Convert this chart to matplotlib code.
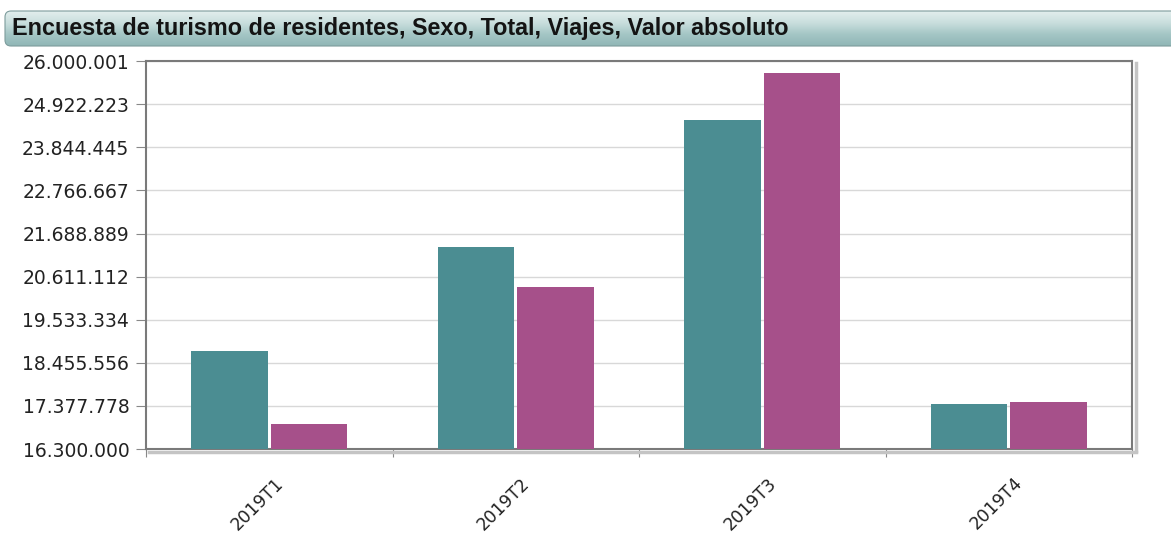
import matplotlib.pyplot as plt
import numpy as np
from matplotlib.colors import LinearSegmentedColormap
from matplotlib.patches import FancyBboxPatch
from matplotlib.ticker import FixedLocator, FuncFormatter

# Viajes por trimestre (valor absoluto)
trimestres = ['2019T1', '2019T2', '2019T3', '2019T4']
serie_a = [18756000, 21360000, 24520000, 17430000]
serie_b = [16920000, 20360000, 25690000, 17470000]

y_min = 16300000
y_max = 26000001
y_ticks = np.linspace(y_min, y_max, 10)

color_a = '#4b8d92'
color_b = '#a6508a'

fig = plt.figure(figsize=(11.71, 5.34), dpi=100)
fig.patch.set_facecolor('white')

# Barra de título con degradado
bar_ax = fig.add_axes([0, (534 - 48) / 534, 1, 40 / 534])
bar_ax.set_xlim(0, 1171)
bar_ax.set_ylim(0, 40)
bar_ax.axis('off')
caja = FancyBboxPatch((5, 2), 1200, 35, boxstyle='round,pad=0,rounding_size=6',
                      facecolor='none', edgecolor='#7d9c9c', lw=0.8, zorder=3)
bar_ax.add_patch(caja)
grad = np.linspace(0, 1, 64).reshape(-1, 1)
img = bar_ax.imshow(grad, extent=(5, 1205, 2, 37), aspect='auto',
                    cmap=LinearSegmentedColormap.from_list(
                        'tb', ['#90b6b6', '#a4c6c5', '#c9dedd', '#e2eeed']),
                    origin='lower')
img.set_clip_path(caja)
bar_ax.text(12, 19, 'Encuesta de turismo de residentes, Sexo, Total, Viajes, Valor absoluto',
            fontsize=16.8, fontweight='bold', family='Liberation Sans',
            color='#141414', va='center', ha='left')

ax = fig.add_axes([0.1247, 0.159, 0.842, 0.7266])
x = np.arange(len(trimestres))
ancho = 0.31
ax.bar(x - ancho / 2 - 0.006, np.array(serie_a) - y_min, ancho, bottom=y_min,
       color=color_a, zorder=3)
ax.bar(x + ancho / 2 + 0.006, np.array(serie_b) - y_min, ancho, bottom=y_min,
       color=color_b, zorder=3)

ax.set_xlim(-0.5, len(trimestres) - 0.5)
ax.set_ylim(y_min, y_max)
ax.yaxis.set_major_locator(FixedLocator(y_ticks))
ax.yaxis.set_major_formatter(FuncFormatter(lambda v, p: f'{int(round(v)):,}'.replace(',', '.')))
ax.grid(axis='y', color='#d8d8d8', lw=1, zorder=0)

# ticks mayores en los límites de cada trimestre, etiquetas en el centro
ax.set_xticks(np.arange(len(trimestres) + 1) - 0.5, minor=False)
ax.set_xticklabels([])
ax.set_xticks(x + 0.02, minor=True)
ax.set_xticklabels(trimestres, minor=True, rotation=45, ha='right', va='top',
                   rotation_mode='anchor', fontsize=12.5, color='#222222')
ax.tick_params(axis='x', which='minor', length=0, pad=18)
ax.tick_params(axis='x', which='major', length=6, color='#888888')
ax.tick_params(axis='y', length=7, color='#888888', labelsize=13.5,
               labelcolor='#222222', pad=5)

for s in ax.spines.values():
    s.set_color('#7a7a7a')
    s.set_linewidth(1.5)

# Sombra del marco
ax.plot([1.004, 1.004], [-0.006, 0.995], transform=ax.transAxes, color='#c4c4c4',
        lw=2.5, clip_on=False)
ax.plot([0.003, 1.004], [-0.008, -0.008], transform=ax.transAxes, color='#c4c4c4',
        lw=2.5, clip_on=False)

fig.savefig('out.png', dpi=100)
